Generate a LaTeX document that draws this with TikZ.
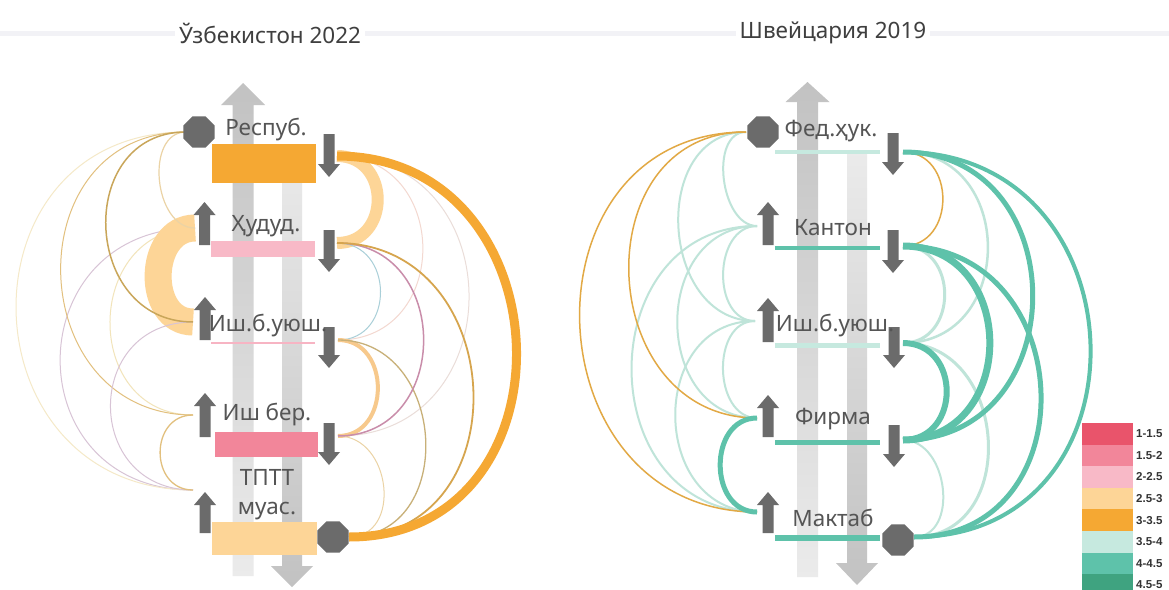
\documentclass[tikz,border=0pt]{standalone}
\usepackage{fontspec}
\setmainfont{Noto Sans}
\newfontfamily\legendfont{Liberation Sans}
\usetikzlibrary{shapes.geometric}
\definecolor{legA}{HTML}{E9546B}
\definecolor{legB}{HTML}{F2869A}
\definecolor{legC}{HTML}{F8B9C7}
\definecolor{legD}{HTML}{FDD597}
\definecolor{legE}{HTML}{F5A833}
\definecolor{legF}{HTML}{C6E9DF}
\definecolor{legG}{HTML}{5EC2AA}
\definecolor{legH}{HTML}{3FA380}
\definecolor{darkar}{HTML}{6B6B6B}
\definecolor{txt}{HTML}{555555}
\definecolor{ttl}{HTML}{3F3F3F}
\definecolor{ltan}{HTML}{EBD3A5}
\definecolor{olive}{HTML}{C9A65A}
\definecolor{tanc}{HTML}{E2C07E}
\definecolor{paleyel}{HTML}{F2E4BA}
\definecolor{lav}{HTML}{D8C4D6}
\definecolor{faintpk}{HTML}{F3D8D0}
\definecolor{ltblue}{HTML}{A9CFD8}
\definecolor{mauve}{HTML}{C98DAA}
\definecolor{gold}{HTML}{D6A54E}
\definecolor{ltor}{HTML}{F7C98C}
\definecolor{oltan}{HTML}{C8B078}
\definecolor{swor}{HTML}{E2A945}
\definecolor{lteal}{HTML}{BFE4D9}
\definecolor{bigdark}{HTML}{C2C2C2}
\definecolor{biglight}{HTML}{EBEBEB}
\definecolor{bgline}{HTML}{F2F2F6}
\newcommand\smallup[3]{\fill[darkar] (#1-5.5,#3) -- (#1-5.5,#2+13) -- (#1-11,#2+13) -- (#1,#2) -- (#1+11,#2+13) -- (#1+5.5,#2+13) -- (#1+5.5,#3) -- cycle;}
\newcommand\smalldn[3]{\fill[darkar] (#1-5.5,#2) -- (#1-5.5,#3-13) -- (#1-11,#3-13) -- (#1,#3) -- (#1+11,#3-13) -- (#1+5.5,#3-13) -- (#1+5.5,#2) -- cycle;}
\newcommand\bigupar[4]{\shade[top color=bigdark, bottom color=biglight] (#1-10.5,#4) -- (#1-10.5,#3) -- (#1-22,#3) -- (#1,#2) -- (#1+22,#3) -- (#1+10.5,#3) -- (#1+10.5,#4) -- cycle;}
\newcommand\bigdnar[4]{\shade[top color=biglight, bottom color=bigdark] (#1-10,#2) -- (#1-10,#3) -- (#1-21,#3) -- (#1,#4) -- (#1+21,#3) -- (#1+10,#3) -- (#1+10,#2) -- cycle;}
\begin{document}
\begin{tikzpicture}[x=1pt,y=-1pt,
  lnk/.style={line width=1pt},
  lft/.style={out=180,in=180},
  rgt/.style={out=0,in=0},
  box/.style={inner sep=0pt, outer sep=0pt, draw=none},
  lbl/.style={text=txt, font=\fontsize{22.5}{26}\selectfont, inner sep=1pt},
  ttlstyle/.style={text=ttl, font=\fontsize{22.5}{26}\selectfont, fill=white, inner xsep=4pt, inner ysep=2pt},
  octa/.style={regular polygon, regular polygon sides=8, fill=darkar, inner sep=0pt, minimum size=34pt},
  legbox/.style={box, minimum width=51pt, minimum height=21.6pt},
  legtxt/.style={anchor=west, inner sep=0pt, text=black!80, font=\legendfont\bfseries\fontsize{11.5}{13}\selectfont}
]
\useasboundingbox (0,0) rectangle (1169,589);
\clip (0,0) rectangle (1169,589);
\fill[white] (0,0) rectangle (1169,589);
\fill[bgline] (0,30.5) rectangle (1169,35.5);

% ---------------- titles
\node[ttlstyle] (t1) at (270,33) {Ўзбекистон 2022};
\node[ttlstyle] (t2) at (833,33) {Швейцария 2019};

% ---------------- ports
\coordinate (P1) at (186,132);
\coordinate (P2) at (195,228);
\coordinate (P3) at (193,322);
\coordinate (P4) at (193,415);
\coordinate (P5) at (193,490);
\coordinate (Q1) at (337,156);
\coordinate (Q2) at (337,243);
\coordinate (Q3) at (338,340);
\coordinate (Q4) at (338,436);
\coordinate (Q5) at (349,537);
\coordinate (R1) at (746,132);
\coordinate (R2) at (757,226);
\coordinate (R3) at (755,321);
\coordinate (R4) at (757,418);
\coordinate (R5) at (757,512);
\coordinate (S1) at (903,152);
\coordinate (S2) at (903,246);
\coordinate (S3) at (903,343);
\coordinate (S4) at (903,440);
\coordinate (S5) at (914,537);

% ---------------- left diagram, left arcs
\draw[lnk, paleyel] (P2) to[lft, looseness=1.53] (P4);
\draw[lnk, lav] (P2) to[lft, looseness=1.74] (P5);
\draw[line width=27pt, legD] (P2) to[lft, looseness=1.3] (P3);
\draw[lnk, paleyel!80!white] (P1) to[lft, looseness=1.65] (P5);
\draw[lnk, tanc] (P1) to[lft, looseness=1.55] (P4);
\draw[lnk, lav] (P3) to[lft, looseness=1.68] (P5);
\draw[lnk, ltan, line width=1.2pt] (P1) to[lft, looseness=1.1] (P2);
\draw[olive, line width=1.5pt] (P1) to[lft, looseness=1.5] (P3);
\draw[tanc, line width=1.3pt] (P4) to[lft, looseness=1.5] (P5);

% ---------------- left diagram, right arcs
\draw[lnk, faintpk] (Q1) to[rgt, looseness=1.58] (Q3);
\draw[lnk, faintpk!80!gray!60] (Q1) to[rgt, looseness=1.6] (Q4);
\draw[line width=12pt, legD] (Q1) to[rgt, looseness=1.6] (Q2);
\draw[lnk, ltblue] (Q2) to[rgt, looseness=1.51] (Q3);
\draw[ltor, line width=4pt] (Q3) to[rgt, looseness=1.42] (Q4);
\draw[lnk, ltan] (Q4) to[rgt, looseness=1.35] (Q5);
\draw[oltan, line width=1.3pt] (Q3) to[rgt, looseness=1.42] (Q5);
\draw[mauve, line width=1.5pt] (Q2) to[rgt, looseness=1.52] (Q4);
\draw[gold, line width=1.8pt] (Q2) to[rgt, looseness=1.51] (Q5);
\draw[legE, line width=9pt] (Q1) to[rgt, looseness=1.55] (Q5);

% ---------------- right diagram, left arcs
\draw[lteal, line width=2pt] (R1) to[lft, looseness=1.0] (R2);
\draw[lteal, line width=2pt] (R1) to[lft, looseness=1.3] (R3);
\draw[lteal, line width=2pt] (R2) to[lft, looseness=1.18] (R3);
\draw[lteal, line width=2pt] (R2) to[lft, looseness=1.42] (R4);
\draw[lteal, line width=2pt] (R2) to[lft, looseness=1.5] (R5);
\draw[lteal, line width=2pt] (R3) to[lft, looseness=1.16] (R4);
\draw[lteal, line width=2pt] (R3) to[lft, looseness=1.44] (R5);
\draw[swor, line width=1.5pt] (R1) to[lft, looseness=1.46] (R4);
\draw[swor, line width=1.5pt] (R1) to[lft, looseness=1.54] (R5);
\draw[legG, line width=5pt] (R4) to[lft, looseness=1.34] (R5);

% ---------------- right diagram, right arcs
\draw[lteal, line width=2.5pt] (S1) to[rgt, looseness=1.52] (S3);
\draw[lteal, line width=3pt] (S2) to[rgt, looseness=1.47] (S3);
\draw[lteal, line width=3pt] (S3) to[rgt, looseness=1.4] (S5);
\draw[lteal, line width=2pt] (S4) to[rgt, looseness=1.2] (S5);
\draw[swor, line width=1.5pt] (S1) to[rgt, looseness=1.45] (S2);
\draw[legG, line width=4pt] (S1) to[rgt, looseness=1.61] (S5);
\draw[legG, line width=5pt] (S1) to[rgt, looseness=1.54] (S4);
\draw[legG, line width=5pt] (S2) to[rgt, looseness=1.55] (S5);
\draw[legG, line width=7pt] (S2) to[rgt, looseness=1.53] (S4);
\draw[legG, line width=6pt] (S3) to[rgt, looseness=1.54] (S4);

% ---------------- big vertical arrows
\bigupar{243}{83}{105}{576}
\bigdnar{292}{145}{566}{587}
\bigupar{807.5}{82}{102}{577}
\bigdnar{857}{150}{563}{585}

% ---------------- left diagram boxes
\node[box, fill=legE, minimum width=104pt, minimum height=39pt] (b1) at (264,163.5) {};
\node[box, fill=legC, minimum width=104pt, minimum height=16pt] (b2) at (263,249) {};
\node[box, fill=legC!90!legB, minimum width=104pt, minimum height=2pt] (b3) at (263,343) {};
\node[box, fill=legB, minimum width=103pt, minimum height=25pt] (b4) at (266.5,444.5) {};
\node[box, fill=legD, minimum width=105pt, minimum height=33pt] (b5) at (264.5,538.5) {};

% ---------------- right diagram bars
\node[box, fill=legF, minimum width=105pt, minimum height=4pt] (c1) at (827.5,152) {};
\node[box, fill=legG, minimum width=105pt, minimum height=4pt] (c2) at (827.5,248) {};
\node[box, fill=legF, minimum width=105pt, minimum height=5pt] (c3) at (827.5,345) {};
\node[box, fill=legG, minimum width=105pt, minimum height=5pt] (c4) at (827.5,442) {};
\node[box, fill=legG, minimum width=105pt, minimum height=6pt] (c5) at (827.5,538) {};

% ---------------- small arrows, left diagram
\smalldn{329}{134}{177}
\smallup{204.5}{202}{245}
\smalldn{329}{230}{272}
\smallup{205}{297}{340}
\smalldn{329}{327}{368}
\smallup{205}{393}{437}
\smalldn{329}{423}{465}
\smallup{205}{492}{533}

% ---------------- small arrows, right diagram
\smalldn{893}{133}{175}
\smallup{768}{202}{245}
\smalldn{893}{230}{273}
\smallup{768}{298}{342}
\smalldn{894}{327}{368}
\smallup{768}{395}{437}
\smalldn{894}{425}{467}
\smallup{768}{492}{533}

% ---------------- octagons
\node[octa] (o1) at (199,132) {};
\node[octa] (o2) at (333,537) {};
\node[octa] (o3) at (763,132) {};
\node[octa] (o4) at (898,540) {};

% ---------------- labels
\node[lbl] (l1) at (266,130) {Респуб.};
\node[lbl] (l2) at (266,226) {Ҳудуд.};
\node[lbl] (l3) at (268,326) {Иш.б.уюш.};
\node[lbl] (l4) at (267,415) {Иш бер.};
\node[lbl] (l5) at (267,477) {ТПТТ};
\node[lbl] (l6) at (267,511) {муас.};
\node[lbl] (m1) at (831,131) {Фед.ҳук.};
\node[lbl] (m2) at (833,228) {Кантон};
\node[lbl] (m3) at (835,326) {Иш.б.уюш.};
\node[lbl] (m4) at (833,419) {Фирма};
\node[lbl] (m5) at (833,518) {Мактаб};

% ---------------- legend
\foreach \c/\t [count=\i from 0] in {legA/1-1.5, legB/1.5-2, legC/2-2.5, legD/2.5-3, legE/3-3.5, legF/3.5-4, legG/4-4.5, legH/4.5-5}{
  \node[legbox, fill=\c, anchor=north west] (lg\i) at (1082,423+\i*21.6) {};
  \node[legtxt] (lt\i) at (1136,433.8+\i*21.6) {\t};
}
\end{tikzpicture}
\end{document}
